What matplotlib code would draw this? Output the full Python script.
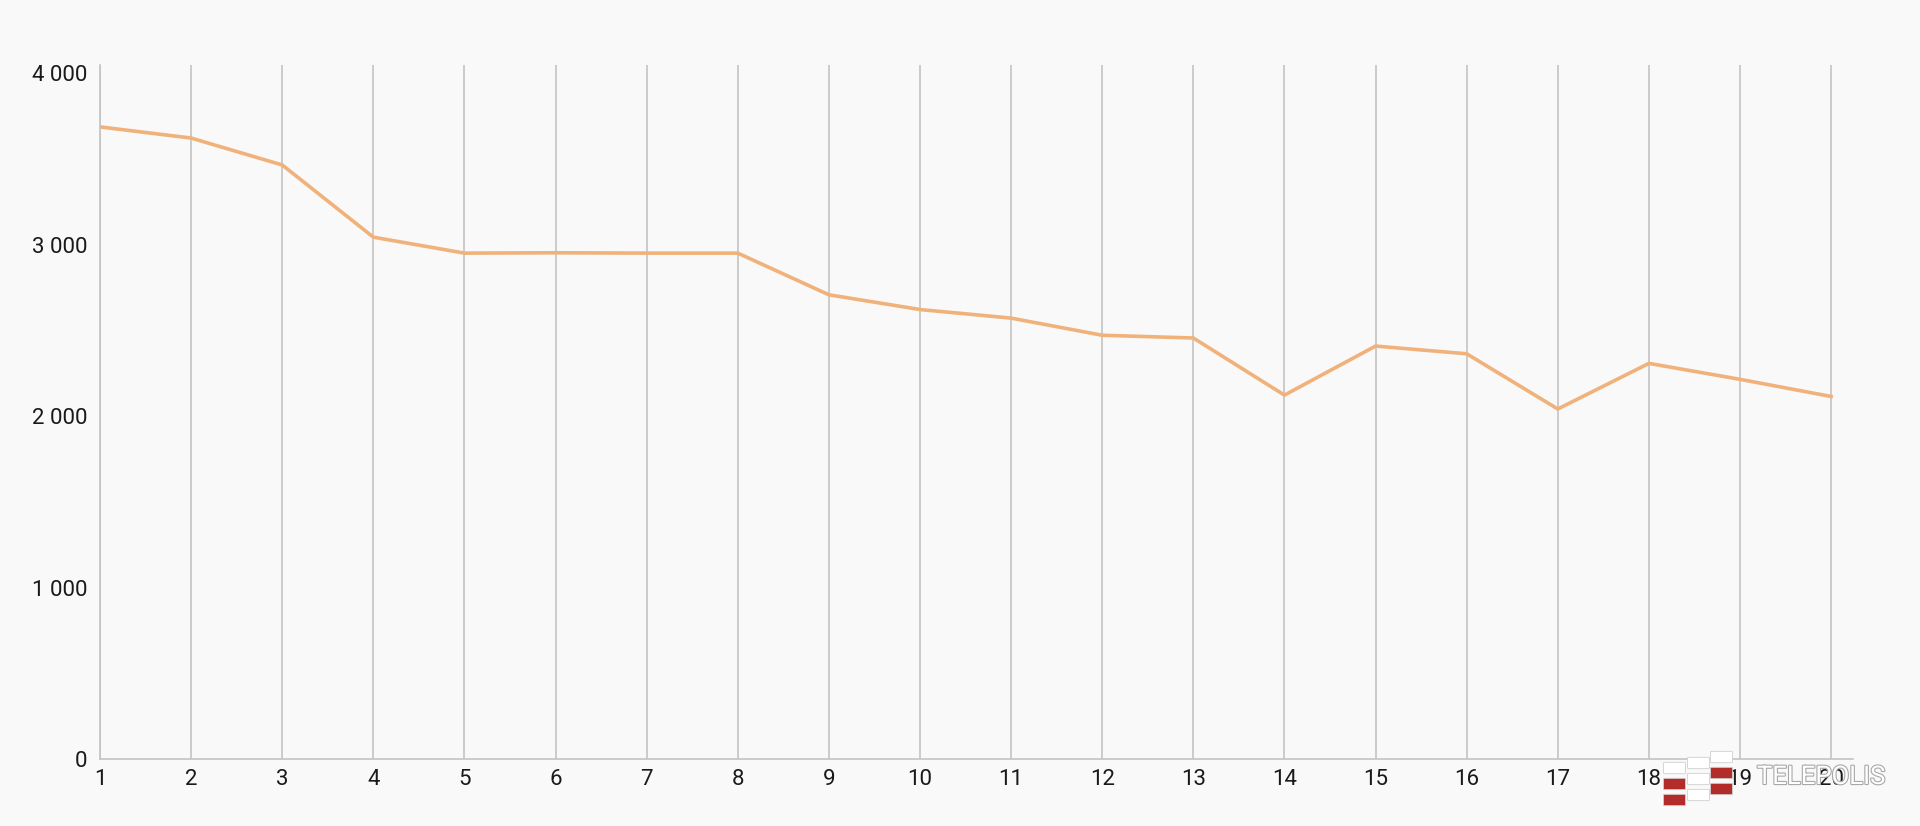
import numpy as np
from matplotlib import pyplot as plt
from matplotlib.patches import FancyBboxPatch
from matplotlib.ticker import FuncFormatter
import matplotlib.patheffects as pe

plt.rcParams['font.family'] = ['Roboto', 'DejaVu Sans']

# data
x = np.arange(1, 21)
y = [3686, 3621, 3464, 3043, 2950, 2952, 2950, 2950, 2707, 2621,
     2571, 2471, 2455, 2122, 2408, 2363, 2041, 2307, 2214, 2114]
y_ticks = [0, 1000, 2000, 3000, 4000]

bg = '#f9f9f9'
fig = plt.figure(figsize=(19.2, 8.26), dpi=100, facecolor=bg)
ax = fig.add_axes([100 / 1920, 1 - 759 / 826, 1753 / 1920, 694 / 826])
ax.set_facecolor(bg)

ax.plot(x, y, color='#f0b27a', linewidth=2.6, solid_joinstyle='round')

ax.set_xlim(1, 20.24)
ax.set_ylim(0, 4047)
ax.set_xticks(x)
ax.set_yticks(y_ticks)
ax.yaxis.set_major_formatter(FuncFormatter(lambda v, p: f'{int(v):,}'.replace(',', ' ')))
ax.grid(axis='x', color='#c4c4c4', linewidth=1.2)
ax.set_axisbelow(True)
for s in ['top', 'right']:
    ax.spines[s].set_visible(False)
for s in ['left', 'bottom']:
    ax.spines[s].set_color('#c4c4c4')
    ax.spines[s].set_linewidth(1.2)
ax.tick_params(length=0, labelsize=16, colors='#1a1a1a')
ax.tick_params(axis='x', pad=7)
ax.tick_params(axis='y', pad=9)

# watermark (logo blocks: left px, bottom px, colour)
blocks = [(1665, 773, '#ffffff'), (1665, 789, '#b22d2a'), (1665, 805, '#b22d2a'),
          (1689, 768, '#ffffff'), (1689, 784, '#ffffff'), (1689, 800, '#ffffff'),
          (1712, 762, '#ffffff'), (1712, 778, '#b22d2a'), (1712, 794, '#b22d2a')]
for px, py, c in blocks:
    fig.patches.append(FancyBboxPatch((px / 1920, 1 - py / 826), 19 / 1920, 10 / 826,
                                      boxstyle='round,pad=0.0008', transform=fig.transFigure,
                                      facecolor=c, edgecolor='#d0d0d0', linewidth=0.6))
fig.text(1757 / 1920, 1 - 777 / 826, 'TELEPOLIS', fontsize=18.5, color='white', va='center',
         path_effects=[pe.withStroke(linewidth=1.6, foreground='#a8a8a8')])

fig.savefig('out.png', dpi=100, facecolor=bg)
